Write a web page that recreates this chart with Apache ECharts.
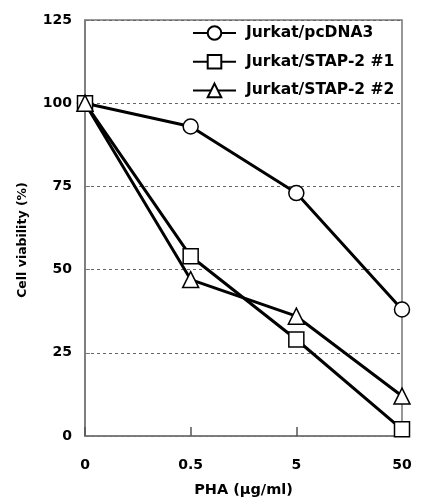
<!DOCTYPE html>
<html>
<head>
<meta charset="utf-8">
<script src="https://cdn.jsdelivr.net/npm/echarts@6/dist/echarts.min.js"></script>
<style>
  html, body { margin: 0; padding: 0; background: #fff; }
  #chart { width: 421px; height: 498px; }
</style>
</head>
<body>
<div id="chart"></div>
<script>
// PHA dose categories
const doses = ['0', '0.5', '5', '50'];
// cell viability (%)
const pcDNA3 = [100, 93, 73, 38];
const stap1 = [100, 54, 29, 2];
const stap2 = [100, 47, 36, 12];

const FONT = 'DejaVu Sans, Liberation Sans, sans-serif';

function lineSeries(name, data, symbol, size) {
    return {
        name: name,
        type: 'line',
        data: data,
        symbol: symbol,
        symbolSize: size,
        lineStyle: { color: '#000', width: 3 },
        itemStyle: { color: '#fff', borderColor: '#000', borderWidth: 1.5 },
        emphasis: { disabled: true },
        animation: false
    };
}

const chart = echarts.init(document.getElementById('chart'));
chart.setOption({
    backgroundColor: '#fff',
    animation: false,
    grid: {
        left: 85, right: 19, top: 20, bottom: 62,
        outerBoundsMode: 'none',
        show: true, borderColor: '#777', borderWidth: 1.5
    },
    legend: {
        orient: 'vertical',
        left: 187, top: 20,
        itemWidth: 43, itemHeight: 17, itemGap: 12.7,
        textStyle: {
            fontFamily: FONT, fontWeight: 'bold', fontSize: 15.5, color: '#000',
            padding: [0, 0, 0, 5]
        },
        data: ['Jurkat/pcDNA3', 'Jurkat/STAP-2 #1', 'Jurkat/STAP-2 #2']
    },
    xAxis: {
        type: 'category',
        data: doses,
        boundaryGap: false,
        name: 'PHA (μg/ml)',
        nameLocation: 'middle',
        nameGap: 47,
        nameTextStyle: { fontFamily: FONT, fontWeight: 'bold', fontSize: 14.5, color: '#000' },
        axisLine: { lineStyle: { color: '#777', width: 1.5 } },
        axisTick: { inside: true, length: 9, lineStyle: { color: '#555', width: 1.5 } },
        axisLabel: { margin: 22, fontFamily: FONT, fontWeight: 'bold', fontSize: 14, color: '#000' },
        splitLine: { show: false }
    },
    yAxis: {
        type: 'value',
        min: 0, max: 125, interval: 25,
        name: 'Cell viability (%)',
        nameLocation: 'middle',
        nameGap: 56,
        nameTextStyle: {
            fontFamily: FONT, fontWeight: 'bold', fontSize: 12.5, color: '#000',
            padding: [0, 24, 0, 0]
        },
        axisLine: { show: true, lineStyle: { color: '#777', width: 1.5 } },
        axisTick: { show: true, inside: true, length: 5, lineStyle: { color: '#777' } },
        axisLabel: { margin: 13, fontFamily: FONT, fontWeight: 'bold', fontSize: 14, color: '#000' },
        splitLine: { show: true, lineStyle: { color: '#666', type: [3, 3], width: 1 } }
    },
    series: [
        lineSeries('Jurkat/pcDNA3', pcDNA3, 'circle', 15),
        lineSeries('Jurkat/STAP-2 #1', stap1, 'rect', 15),
        lineSeries('Jurkat/STAP-2 #2', stap2, 'triangle', 16)
    ]
});
window.addEventListener('resize', () => {
    chart.resize();
});
</script>
</body>
</html>
